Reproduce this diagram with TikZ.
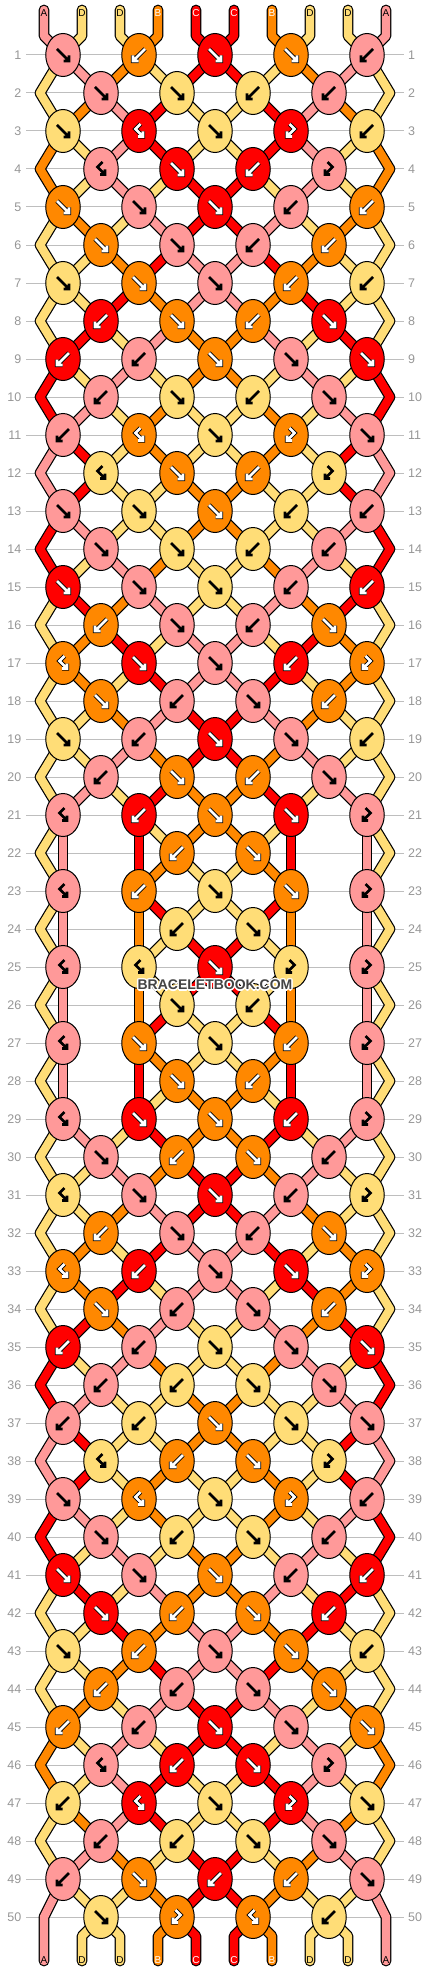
\documentclass[tikz,border=0pt]{standalone}
\usepackage{fontspec}
\setmainfont{Liberation Sans}
\usetikzlibrary{shapes.geometric}

\definecolor{colA}{RGB}{255,153,153}
\definecolor{colB}{RGB}{255,136,0}
\definecolor{colC}{RGB}{255,0,0}
\definecolor{colD}{RGB}{255,221,119}
\colorlet{txtA}{black}
\colorlet{txtB}{white}
\colorlet{txtC}{white}
\colorlet{txtD}{black}
\definecolor{rowgray}{RGB}{190,190,190}
\definecolor{numgray}{RGB}{150,150,150}
\definecolor{wmgray}{RGB}{68,68,68}

\pgfdeclarelayer{strands}
\pgfsetlayers{strands,main}

\tikzset{
  knotnode/.style={ellipse, draw=black, line width=1, minimum width=34.5, minimum height=43, inner sep=0},
  strand/.style={line width=1.2, double=#1, double distance=8.4, line cap=round, line join=round},
  arrowline/.style={line width=2.6, line join=miter, line cap=butt},
  rowline/.style={draw=rowgray, line width=1},
  rownum/.style={font=\fontsize{12.5}{14}\selectfont, text=numgray, inner sep=0},
  endlabel/.style={font=\fontsize{10}{12}\selectfont, inner sep=0},
  watermark/.style={font=\fontsize{14}{16}\selectfont\bfseries, inner sep=0}
}

% strand colour and path so far, per position
\newcommand\setst[2]{\expandafter\xdef\csname st#1\endcsname{#2}}
\newcommand\setpt[2]{\expandafter\xdef\csname pt#1\endcsname{#2}}
\newcommand\edgeL{40}
\newcommand\edgeR{390}

% f forward, b backward, F forward-backward, B backward-forward
\newcommand\knotglyph[3]{%
  \if f#1\def\gpath{(-6,-6) -- (6,6) (6,0.5) -- (6,6) -- (0.5,6)}\fi
  \if b#1\def\gpath{(6,-6) -- (-6,6) (-6,0.5) -- (-6,6) -- (-0.5,6)}\fi
  \if F#1\def\gpath{(-1.5,-7) -- (3.5,-2) -- (-4,5.5) (-4,0.5) -- (-4,5.5) -- (1,5.5)}\fi
  \if B#1\def\gpath{(1.5,-7) -- (-3.5,-2) -- (4,5.5) (4,0.5) -- (4,5.5) -- (-1,5.5)}\fi
  \begin{scope}[shift={(#3.center)}]
    \edef\mytmp{\noexpand\draw[arrowline, line width=4.4, black] \gpath;}%
    \if B#2\mytmp\fi
    \if C#2\mytmp\fi
    \edef\mytmp{\noexpand\draw[arrowline, draw=txt#2] \gpath;}\mytmp
  \end{scope}}

% row, index, left pos, right pos, x, type
\newcommand\knotat[6]{%
  \edef\lc{\csname st#3\endcsname}%
  \edef\rc{\csname st#4\endcsname}%
  \let\kc\rc
  \if f#6\let\kc\lc\fi
  \if F#6\let\kc\lc\fi
  \edef\mytmp{\noexpand\node[knotnode, fill=col\kc] (k-#1-#2) at (#5,\the\numexpr17+38*#1\relax) {};}\mytmp
  \begin{pgfonlayer}{strands}
    \edef\mytmp{\noexpand\draw[strand=col\lc] \csname pt#3\endcsname\space-- (k-#1-#2.center);
      \noexpand\draw[strand=col\rc] \csname pt#4\endcsname\space-- (k-#1-#2.center);}\mytmp
  \end{pgfonlayer}
  \edef\mytmp{\noexpand\knotglyph{#6}{\kc}{k-#1-#2}}\mytmp
  \if f#6\setst{#3}{\rc}\setst{#4}{\lc}\fi
  \if b#6\setst{#3}{\rc}\setst{#4}{\lc}\fi
  \setpt{#3}{(k-#1-#2.center)}\setpt{#4}{(k-#1-#2.center)}}

\newcommand\evenknot[6]{\if n#6\else\knotat{#1}{#2}{#3}{#4}{#5}{#6}\fi}

\newcommand\oddrow[6]{%
  \knotat{#1}{1}{0}{1}{63}{#2}\knotat{#1}{2}{2}{3}{139}{#3}\knotat{#1}{3}{4}{5}{215}{#4}%
  \knotat{#1}{4}{6}{7}{291}{#5}\knotat{#1}{5}{8}{9}{367}{#6}}

\newcommand\evenrow[5]{%
  \coordinate (e-#1-0) at (\edgeL,\the\numexpr17+38*#1\relax);
  \coordinate (e-#1-9) at (\edgeR,\the\numexpr17+38*#1\relax);
  \setpt{0}{\csname pt0\endcsname\space-- (e-#1-0)}%
  \setpt{9}{\csname pt9\endcsname\space-- (e-#1-9)}%
  \evenknot{#1}{1}{1}{2}{101}{#2}\evenknot{#1}{2}{3}{4}{177}{#3}%
  \evenknot{#1}{3}{5}{6}{253}{#4}\evenknot{#1}{4}{7}{8}{329}{#5}}

\begin{document}
\begin{tikzpicture}[x=1pt, y=-1pt]
\useasboundingbox (0,0) rectangle (430,1972);

% row lines and numbers
\begin{pgfonlayer}{strands}
\foreach \rw in {1,...,50}
  \draw[rowline] (26,{17+38*\rw}) -- (404,{17+38*\rw});
\end{pgfonlayer}
\foreach \rw in {1,...,50} {
  \node[rownum, anchor=east] (nl-\rw) at (21.5,{17+38*\rw}) {\rw};
  \node[rownum, anchor=west] (nr-\rw) at (408,{17+38*\rw}) {\rw};
}

% strands at the top
\foreach \i/\lt in {0/A,1/D,2/D,3/B,4/C,5/C,6/B,7/D,8/D,9/A} {
  \coordinate (top-\i) at ({44+38*\i},10);
  \coordinate (t-\i) at ({44+38*\i},36);
  \node[endlabel, text=txt\lt] (lt-\i) at ({44+38*\i},13) {\lt};
  \setst{\i}{\lt}\setpt{\i}{(top-\i) -- (t-\i)}
}

\oddrow{1}{f}{b}{f}{f}{b}
\evenrow{2}{f}{f}{b}{b}
\oddrow{3}{f}{B}{f}{F}{b}
\evenrow{4}{B}{f}{b}{F}
\oddrow{5}{f}{f}{f}{b}{b}
\evenrow{6}{f}{f}{b}{b}
\oddrow{7}{f}{f}{f}{b}{b}
\evenrow{8}{b}{f}{b}{f}
\oddrow{9}{b}{b}{f}{f}{f}
\evenrow{10}{b}{f}{b}{f}
\oddrow{11}{b}{B}{f}{F}{f}
\evenrow{12}{B}{f}{b}{F}
\oddrow{13}{f}{f}{f}{b}{b}
\evenrow{14}{f}{f}{b}{b}
\oddrow{15}{f}{f}{f}{b}{b}
\evenrow{16}{b}{f}{b}{f}
\oddrow{17}{B}{f}{f}{b}{F}
\evenrow{18}{f}{b}{f}{b}
\oddrow{19}{f}{b}{f}{f}{b}
\evenrow{20}{b}{f}{b}{f}
\oddrow{21}{B}{b}{f}{f}{F}
\evenrow{22}{n}{b}{f}{n}
\oddrow{23}{B}{b}{f}{f}{F}
\evenrow{24}{n}{b}{f}{n}
\oddrow{25}{B}{B}{f}{F}{F}
\evenrow{26}{n}{f}{b}{n}
\oddrow{27}{B}{f}{f}{b}{F}
\evenrow{28}{n}{f}{b}{n}
\oddrow{29}{B}{f}{f}{b}{F}
\evenrow{30}{f}{b}{f}{b}
\oddrow{31}{B}{f}{f}{b}{F}
\evenrow{32}{b}{f}{b}{f}
\oddrow{33}{B}{b}{f}{f}{F}
\evenrow{34}{f}{b}{f}{b}
\oddrow{35}{b}{b}{f}{f}{f}
\evenrow{36}{b}{b}{f}{f}
\oddrow{37}{b}{b}{f}{f}{f}
\evenrow{38}{B}{b}{f}{F}
\oddrow{39}{f}{B}{f}{F}{b}
\evenrow{40}{f}{b}{f}{b}
\oddrow{41}{f}{f}{f}{b}{b}
\evenrow{42}{f}{b}{f}{b}
\oddrow{43}{f}{b}{f}{f}{b}
\evenrow{44}{b}{b}{f}{f}
\oddrow{45}{b}{b}{f}{f}{f}
\evenrow{46}{B}{b}{f}{F}
\oddrow{47}{b}{B}{f}{F}{f}
\evenrow{48}{b}{b}{f}{f}
\oddrow{49}{b}{f}{b}{b}{f}
\def\edgeL{44}\def\edgeR{386}
\evenrow{50}{f}{F}{B}{b}

% strands at the bottom
\foreach \i in {0,...,9} {
  \coordinate (m-\i) at ({44+38*\i},1936);
  \coordinate (bot-\i) at ({44+38*\i},1961);
  \begin{pgfonlayer}{strands}
    \edef\mytmp{\noexpand\draw[strand=col\csname st\i\endcsname] \csname pt\i\endcsname\space-- (m-\i) -- (bot-\i);}\mytmp
  \end{pgfonlayer}
  \edef\mytmp{\noexpand\node[endlabel, text=txt\csname st\i\endcsname] (lb-\i) at ({44+38*\i},1960) {\csname st\i\endcsname};}\mytmp
}

% watermark
\foreach \dx/\dy [count=\cnt] in {-1/-1,1/-1,-1/1,1/1,0/-1.5,0/1.5,-1.5/0,1.5/0}
  \node[watermark, text=white] (wmh-\cnt) at ({215+\dx},{985+\dy}) {BRACELETBOOK.COM};
\node[watermark, text=wmgray] (wm) at (215,985) {BRACELETBOOK.COM};
\end{tikzpicture}
\end{document}
